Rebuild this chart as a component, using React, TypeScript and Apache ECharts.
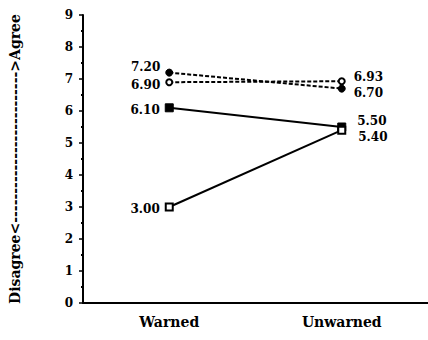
import React, { useEffect, useRef } from "react";
import * as echarts from "echarts";

const categories = ["Warned", "Unwarned"];
const filledCircle = [7.2, 6.7];
const openCircle = [6.9, 6.93];
const filledSquare = [6.1, 5.5];
const openSquare = [3.0, 5.4];
const yTicks = [0, 1, 2, 3, 4, 5, 6, 7, 8, 9];
const yName = "Disagree<-------------------------->Agree";

const FONT = "DejaVu Serif";

function mkData(vals: number[], offsets: [number, number][]) {
  return vals.map((v, i) => ({
    value: v,
    label: {
      show: true,
      position: i === 0 ? "left" : "right",
      distance: 5,
      offset: offsets[i],
      formatter: (p: any) => Number(p.value).toFixed(2),
      fontFamily: FONT,
      fontWeight: "bold",
      fontSize: 12,
      color: "#000",
    },
  }));
}

export default function App() {
  const ref = useRef<HTMLDivElement>(null);
  useEffect(() => {
    if (!ref.current) return;
    const chart = echarts.init(ref.current, null, { renderer: "svg" });
    const lineBase = { type: "line", animation: false, z: 3 };
    chart.setOption({
      animation: false,
      backgroundColor: "#fff",
      grid: { left: 76, top: 15, height: 288, width: 356 },
      xAxis: {
        type: "category",
        data: categories,
        boundaryGap: true,
        axisLine: { lineStyle: { color: "#000", width: 2 } },
        axisTick: { alignWithLabel: true, length: 4, lineStyle: { color: "#000", width: 2 } },
        axisLabel: { margin: 12, fontFamily: FONT, fontWeight: "bold", fontSize: 14, color: "#000" },
        splitLine: { show: false },
      },
      yAxis: {
        type: "value",
        min: yTicks[0],
        max: yTicks[yTicks.length - 1],
        interval: 1,
        name: yName,
        nameLocation: "middle",
        nameRotate: 90,
        nameGap: 61,
        nameTextStyle: { fontFamily: FONT, fontWeight: "bold", fontSize: 14, color: "#000" },
        axisLine: { show: true, lineStyle: { color: "#000", width: 2 } },
        axisTick: { show: true, length: 4, lineStyle: { color: "#000", width: 1.5 } },
        minorTick: { show: true, splitNumber: 2, length: 2, lineStyle: { color: "#000", width: 2 } },
        axisLabel: { margin: 10, fontFamily: FONT, fontWeight: "bold", fontSize: 12, color: "#000" },
        splitLine: { show: false },
      },
      series: [
        {
          ...lineBase,
          data: mkData(filledCircle, [[0, -6], [3, 4]]),
          symbol: "circle",
          symbolSize: 7,
          itemStyle: { color: "#000", borderColor: "#000" },
          lineStyle: { color: "#000", width: 2, type: [4, 2] },
        },
        {
          ...lineBase,
          z: 4,
          data: mkData(openCircle, [[0, 3], [3, -4]]),
          symbol: "emptyCircle",
          symbolSize: 6,
          itemStyle: { color: "#000", borderColor: "#000", borderWidth: 1.5 },
          lineStyle: { color: "#000", width: 2, type: [4, 2] },
        },
        {
          ...lineBase,
          data: mkData(filledSquare, [[0, 2], [6, -6]]),
          symbol: "rect",
          symbolSize: 8,
          itemStyle: { color: "#000", borderColor: "#000" },
          lineStyle: { color: "#000", width: 2 },
        },
        {
          ...lineBase,
          z: 4,
          data: mkData(openSquare, [[0, 2], [7, 7]]),
          symbol: "emptyRect",
          symbolSize: 7,
          itemStyle: { color: "#000", borderColor: "#000", borderWidth: 1.5 },
          lineStyle: { color: "#000", width: 2 },
        },
      ],
    });
    return () => chart.dispose();
  }, []);
  return (
    <div
      ref={ref}
      style={{ position: "fixed", left: 0, top: 0, width: 428, height: 340, background: "#fff" }}
    />
  );
}
